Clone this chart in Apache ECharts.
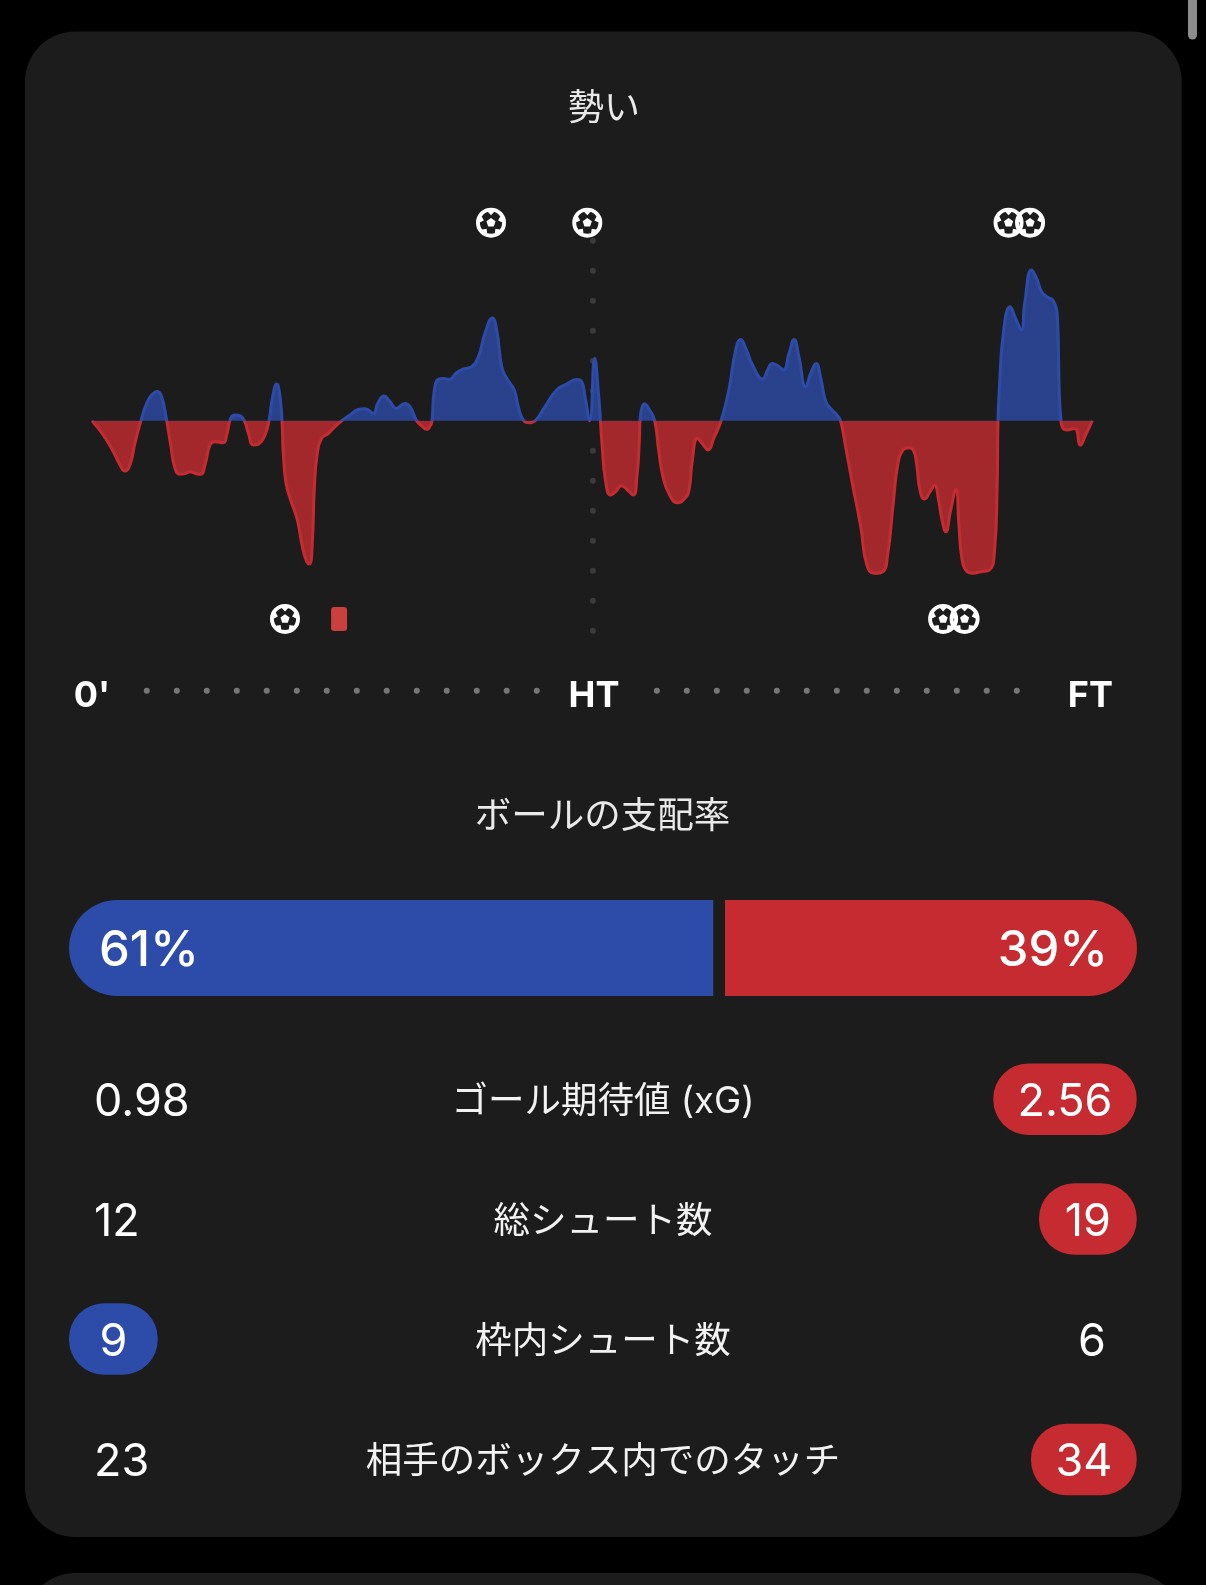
<!DOCTYPE html>
<html><head><meta charset="utf-8">
<style>html,body{margin:0;padding:0;background:#000}#c{width:1206px;height:1585px}</style>
<script src="https://cdn.jsdelivr.net/npm/echarts@6/dist/echarts.min.js"></script>
</head><body><div id="c"></div>
<script>
// ---------- data ----------
const momentumMinutes = [0,1.02,1.92,2.52,2.96,3.41,3.86,4.40,4.91,5.36,5.87,6.26,6.71,7.07,7.46,7.91,8.36,8.81,9.25,9.76,10.15,10.6,11.05,11.8,12.1,12.46,12.85,13.3,13.69,14.05,14.5,14.95,15.54,15.9,16.23,16.59,16.89,17.07,17.19,17.43,17.85,18.45,18.84,19.23,19.53,19.79,19.97,20.24,20.63,21.23,21.83,22.43,23.18,23.93,24.53,25.28,25.67,26.24,26.78,27.32,28.12,28.57,29.17,29.62,30.07,30.43,30.55,30.76,31.12,31.57,32.1,32.76,33.36,34.11,34.71,35.31,35.97,36.36,36.81,37.26,37.94,38.3,38.75,39.35,39.89,40.7,41.75,42.65,43.55,44,44.3,44.72,45.16,45.53,45.68,45.84,46.13,46.59,47.05,47.56,48.11,48.63,48.96,49.18,49.24,49.39,49.63,50.09,50.55,50.91,51.30,51.90,52.60,53.27,53.64,53.94,54.40,54.86,55.34,55.86,56.52,57.22,57.83,58.28,58.74,59.35,60.26,60.72,61.11,61.63,62.14,62.62,63.08,63.51,64.12,64.57,65.06,65.48,65.94,66.49,66.94,67.25,67.71,68.31,69.07,69.62,70.28,71.04,71.50,71.96,72.41,72.87,73.32,73.78,74.08,74.39,74.79,75.30,75.70,76.06,76.37,76.72,77.12,77.63,77.88,78.18,78.64,79.09,79.86,80.62,81.07,81.32,81.40,81.52,81.88,82.49,82.98,83.50,83.80,84.41,84.87,85.32,85.78,86.39,86.75,86.90,87.06,87.24,87.59,88.29,88.81,89.27,89.88];
const momentumValues = [0,-9,-19.4,-27.7,-31.5,-27.7,-14,0,10.8,16,18.3,15,0,-15.2,-29.8,-33.5,-33.1,-31.9,-32.9,-33.5,-27.7,-15.2,-13.1,-13.8,-9,1.5,3.5,3.1,0,-7.9,-15.2,-14.6,-9,0,15,22.9,15,0,-20.4,-39,-49.6,-62,-76.7,-87,-89.6,-76.7,-43,-20.4,-11,-8,-3.8,0,3.5,7,7.5,4.6,10.8,15.4,11.9,7.7,10.8,8.8,0,-3.3,-5.4,-2.7,0,19.2,25.8,26.3,25.8,30,32.3,33.8,40,54.6,64.2,56.7,33.8,26.5,19.2,8.8,0.4,-1.25,0.4,8.8,19.2,22.9,25.8,24.4,15,0,39,15,0,-16.25,-37,-46.5,-44.4,-40.6,-43.3,-46.5,-35,-12,0,7.7,10.4,6.7,0,-18.3,-35,-46.5,-51.25,-48.5,-43.3,-24.6,-11,-14.6,-18.3,-11,0,19.2,44.2,50.8,45.2,34.8,26,32,35.8,34.2,31.7,42,50.8,40,21.25,29.6,35.8,26.5,11.9,6.7,3.5,0,-16.25,-39,-66.25,-90.2,-95.4,-94.4,-83,-53.75,-26.7,-18.3,-16.9,-18.3,-26.7,-43.3,-49,-44.4,-40.2,-49.6,-62,-69.4,-56.9,-43,-64,-87,-94.4,-95.4,-94.4,-93.3,-83,-43,0,19.2,54.6,71.25,64,56.7,73.3,94.2,89,80.6,77.5,74.8,63,19.2,0,-4.8,-5.8,-4.8,-15.2,-9,0];
const homeGoalMinutes = [35.85, 44.5, 82.35, 84.28];
const awayGoalMinutes = [17.34, 76.47, 78.4];
const awayRedCardMinutes = [22.2];
const tickMinutes = [0, 45.1, 89.7];
const tickLabels = ["0'", "HT", "FT"];
const halfTimeMinute = 45;
const halfLineLevels = [112.5,93.75,75,56.25,37.5,18.75,-18.75,-37.5,-56.25,-75,-93.75,-112.5,-131.25];
const timelineDotMinutes = [4.92,7.62,10.31,13.01,15.70,18.40,21.09,23.79,26.48,29.18,31.87,34.57,37.26,39.96,50.75,53.44,56.14,58.83,61.53,64.22,66.92,69.61,72.31,75.0,77.7,80.39,83.09];
const homePossession = 61;
const awayPossession = 39;
const statLabels = ["ゴール期待値 (xG)", "総シュート数", "枠内シュート数", "相手のボックス内でのタッチ"];
const homeStats = ["0.98", "12", "9", "23"];
const awayStats = ["2.56", "19", "6", "34"];
const statLeader = ["away", "away", "home", "away"];

// ---------- layout and style ----------
const FONT = "Inter, 'Noto Sans CJK JP', sans-serif";
const BLUE = '#2d4ba8', RED = '#c52b30', CARD = '#1c1c1c';
const rowMid = [1099.2, 1219, 1339, 1459.5];
const homeTextX = 94, awayPlainCenter = 1092, pillRight = 1136.7, pillLeft = 69, pillH = 71.5;
const pillWidth = {"2.56": 143.4, "19": 97.7, "9": 88.7, "34": 105.7};

function goalIconPath() {
  const C = 50, pt = (r, a) => (C + r * Math.cos(a)).toFixed(2) + ' ' + (C + r * Math.sin(a)).toFixed(2);
  let d = 'M50 0A50 50 0 1 1 50 100A50 50 0 1 1 50 0Z M50 13A37 37 0 1 0 50 87A37 37 0 1 0 50 13Z ';
  const step = Math.PI * 2 / 5, top = -Math.PI / 2;
  for (let j = 0; j < 5; j++) {
    d += (j ? 'L' : 'M') + pt(16, top + j * step);
  }
  d += 'Z ';
  for (let i = 0; i < 5; i++) {
    const a = top + i * step;
    d += 'M' + pt(42, a - 0.34) + 'L' + pt(42, a + 0.34) + 'L' + pt(25, a) + 'Z ';
  }
  return 'path://' + d;
}
const goalSymbol = goalIconPath();

const graphics = [
  {type:'rect', z:-10, shape:{x:25,y:31.5,width:1156.7,height:1505.5,r:50}, style:{fill:CARD}},
  {type:'rect', z:-10, shape:{x:25,y:1573,width:1156.7,height:120,r:50}, style:{fill:CARD}},
  {type:'rect', z:-10, shape:{x:1188,y:-20,width:9,height:59.5,r:4.5}, style:{fill:'#8c8c8c'}},
  {type:'text', z:5, style:{text:'ボールの支配率', x:602.5, y:817, align:'center', verticalAlign:'middle', fontFamily:FONT, fontSize:36.5, fill:'#e9e9ea'}}
];
statLabels.forEach((label, i) => {
  const y = rowMid[i];
  graphics.push({type:'text', z:5, style:{text:label, x:603, y:y+3, align:'center', verticalAlign:'middle', fontFamily:FONT, fontSize:36.5, fill:'#f2f2f3'}});
  const home = homeStats[i], away = awayStats[i];
  let hx = homeTextX, hAlign = 'left', ax = awayPlainCenter;
  if (statLeader[i] === 'home') {
    const w = pillWidth[home];
    graphics.push({type:'rect', z:4, shape:{x:pillLeft,y:y-pillH/2,width:w,height:pillH,r:35}, style:{fill:BLUE}});
    hx = pillLeft + w/2; hAlign = 'center';
  } else {
    const w = pillWidth[away];
    graphics.push({type:'rect', z:4, shape:{x:pillRight-w,y:y-pillH/2,width:w,height:pillH,r:35}, style:{fill:RED}});
    ax = pillRight - w/2;
  }
  graphics.push({type:'text', z:5, style:{text:home, x:hx, y:y+3, align:hAlign, verticalAlign:'middle', fontFamily:FONT, fontSize:45, fill:'#fff'}});
  graphics.push({type:'text', z:5, style:{text:away, x:ax, y:y+3, align:'center', verticalAlign:'middle', fontFamily:FONT, fontSize:45, fill:'#fff'}});
});

const chart = echarts.init(document.getElementById('c'), null, {renderer:'canvas', width:1206, height:1585});
chart.setOption({
  backgroundColor:'#000',
  animation:false,
  title:{text:'勢い', left:599, top:104, textAlign:'center', textVerticalAlign:'middle',
         textStyle:{color:'#e9e9ea', fontFamily:FONT, fontSize:36, fontWeight:'normal'}},
  graphic:graphics,
  grid:[
    {left:92, top:132.7, width:1001.7, height:584},
    {left:69, top:900, width:1068, height:96}
  ],
  xAxis:[
    {gridIndex:0, type:'value', min:0, max:90, splitLine:{show:false}, axisLine:{show:false}, axisTick:{show:false},
     axisLabel:{inside:true, margin:3, customValues:tickMinutes, showMinLabel:true, showMaxLabel:true,
       formatter:v => tickLabels[tickMinutes.indexOf(v)] || '', color:'#fff', fontFamily:FONT, fontSize:36, fontWeight:700}},
    {gridIndex:1, type:'value', min:0, max:100, show:false}
  ],
  yAxis:[
    {gridIndex:0, type:'value', min:-185, max:180, show:false, splitLine:{show:false}},
    {gridIndex:1, type:'category', data:['possession'], show:false}
  ],
  visualMap:{show:false, type:'piecewise', seriesIndex:0, dimension:1,
    pieces:[{min:-200, max:0, color:RED},{min:0, max:200, color:BLUE}]},
  series:[
    {type:'line', name:'momentum', xAxisIndex:0, yAxisIndex:0, z:3, smooth:0.5, showSymbol:false, symbol:'none',
     lineStyle:{width:3}, areaStyle:{opacity:0.8, origin:0},
     data:momentumMinutes.map((m,i)=>[m, momentumValues[i]])},
    {type:'scatter', xAxisIndex:0, yAxisIndex:0, z:1, symbol:'circle', symbolSize:6, itemStyle:{color:'#444446'},
     data:halfLineLevels.map(v=>[halfTimeMinute, v])},
    {type:'scatter', xAxisIndex:0, yAxisIndex:0, z:1, symbol:'circle', symbolSize:6, itemStyle:{color:'#8e8e90'},
     data:timelineDotMinutes.map(m=>[m, -168.75])},
    {type:'scatter', name:'goals', xAxisIndex:0, yAxisIndex:0, z:5, symbol:goalSymbol, symbolSize:30, itemStyle:{color:'#fff', opacity:1},
     data:homeGoalMinutes.map(m=>[m,123.75]).concat(awayGoalMinutes.map(m=>[m,-123.9]))},
    {type:'scatter', name:'red cards', xAxisIndex:0, yAxisIndex:0, z:5, symbol:'path://M3 0H13A3 3 0 0 1 16 3V21A3 3 0 0 1 13 24H3A3 3 0 0 1 0 21V3A3 3 0 0 1 3 0Z', symbolSize:[16,24], itemStyle:{color:'#c9403e', opacity:1},
     data:awayRedCardMinutes.map(m=>[m,-123.9])},
    {type:'custom', name:'possession', xAxisIndex:1, yAxisIndex:1, z:4,
     encode:{x:[0,1], y:2},
     data:[[homePossession, awayPossession, 0]],
     renderItem:(params, api) => {
       const home = api.value(0), away = api.value(1);
       const x0 = api.coord([0,0])[0], xm = api.coord([home,0])[0], x1 = api.coord([home+away,0])[0];
       const cy = api.coord([0,0])[1], h = api.size([0,1])[1];
       const textStyle = {fontFamily:FONT, fontSize:49, fontWeight:500, fill:'#fff', verticalAlign:'middle'};
       return {type:'group', children:[
         {type:'rect', shape:{x:x0,y:cy-h/2,width:xm-7.2-x0,height:h,r:[48,0,0,48]}, style:{fill:BLUE}},
         {type:'rect', shape:{x:xm+4.5,y:cy-h/2,width:x1-xm-4.5,height:h,r:[0,48,48,0]}, style:{fill:RED}},
         {type:'text', style:Object.assign({text:home+'%', x:x0+30, y:cy+3, align:'left'}, textStyle)},
         {type:'text', style:Object.assign({text:away+'%', x:x1-29, y:cy+3, align:'right'}, textStyle)}
       ]};
     }}
  ]
});
</script></body></html>
